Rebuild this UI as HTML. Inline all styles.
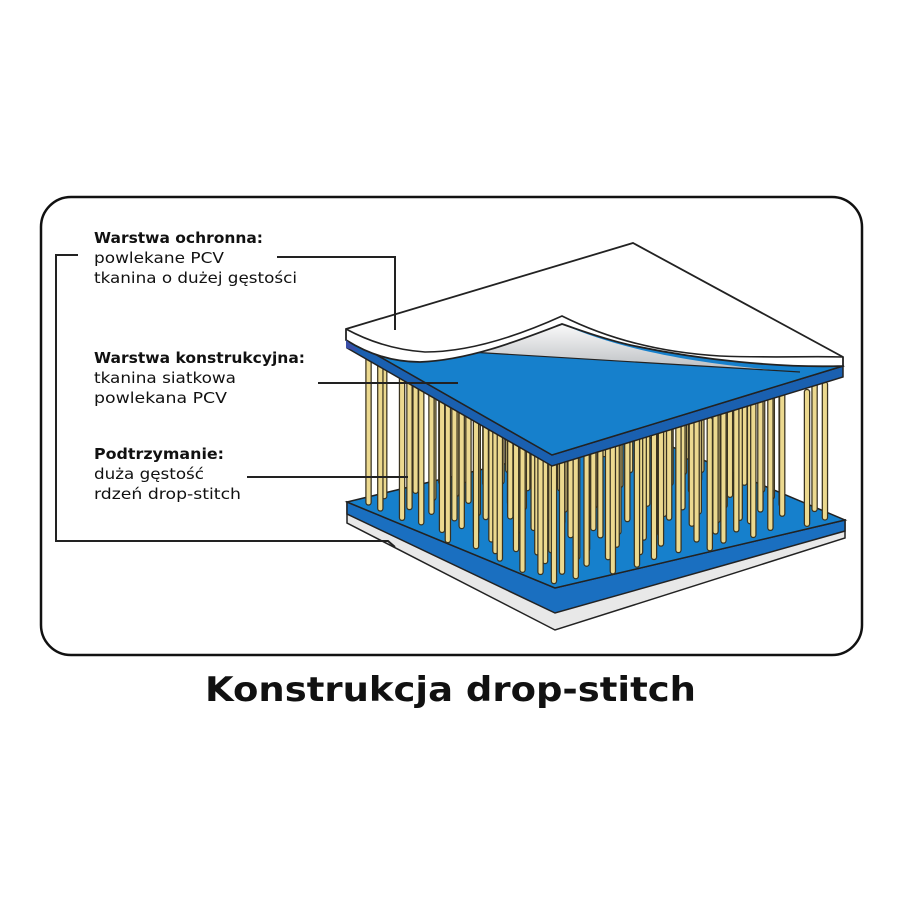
<!DOCTYPE html>
<html><head><meta charset="utf-8"><style>
html,body{margin:0;padding:0;background:#fff;width:900px;height:900px;overflow:hidden}
svg{display:block}
text{font-family:"DejaVu Sans","Liberation Sans",sans-serif;fill:#111}
</style></head><body>
<svg id="s" width="900" height="900" viewBox="0 0 900 900" xmlns="http://www.w3.org/2000/svg">
<rect x="41" y="197" width="821" height="458" rx="30" fill="#fff" stroke="#111" stroke-width="2.5"/>
<!-- bottom plate -->
<polygon points="347,502 555,588 845,520 845,538 555,630 347,523" fill="#e8e8e8" stroke="#222" stroke-width="1.5"/>
<polygon points="347,502 555,588 845,520 845,531 555,613 347,514" fill="#1a6fc0" stroke="#222" stroke-width="1.5"/>
<polygon points="347,502 637,432 845,520 555,588" fill="#1680cc" stroke="#222" stroke-width="1.5"/>
<g id="rods"></g>
<!-- top plate -->
<polygon points="347,338 552,455 843,366 843,377 552,466 347,348" fill="#1a60b0" stroke="#222" stroke-width="1.5"/>
<polygon points="347,338 640,258 843,366 552,455" fill="#1680cc" stroke="#222" stroke-width="1.5"/>
<defs><linearGradient id="g" x1="0" y1="0" x2="0" y2="1"><stop offset="0" stop-color="#fafafa"/><stop offset="1" stop-color="#b9bcc0"/></linearGradient></defs>
<path d="M470,352 C500,345 530,335 562,324 C620,350 700,365 800,372 Z" fill="url(#g)"/>
<line x1="470" y1="352" x2="800" y2="372" stroke="#222" stroke-width="1.2"/>
<!-- white sheet -->
<path d="M346,329 L633,243 L843,357 L843,366 C780,368 700,360 630,345 C600,338 580,330 562,324 C520,340 470,360 420,362 C390,362 365,352 346,340 Z" fill="#fff" stroke="#222" stroke-width="1.8"/>
<path d="M346,329 C370,342 395,350 425,352 C470,352 520,335 562,316 C600,335 650,352 720,356 C770,358 810,356 843,357" fill="none" stroke="#222" stroke-width="1.6"/>
<path d="M346,340 L346,348 L360,352 Z" fill="#3a4fa8"/>
<!-- connectors -->
<g stroke="#222" stroke-width="2" fill="none">
<polyline points="277,257 395,257 395,330"/>
<polyline points="78,255 56,255 56,541 388,541 395,547"/>
<line x1="318" y1="383" x2="458" y2="383"/>
<line x1="247" y1="477" x2="408" y2="477"/>
</g>
<g font-size="15">
<text x="94" y="243" font-weight="bold" textLength="169" lengthAdjust="spacingAndGlyphs">Warstwa ochronna:</text>
<text x="94" y="263" textLength="130" lengthAdjust="spacingAndGlyphs">powlekane PCV</text>
<text x="94" y="283" textLength="203" lengthAdjust="spacingAndGlyphs">tkanina o dużej gęstości</text>
<text x="94" y="363" font-weight="bold" textLength="211" lengthAdjust="spacingAndGlyphs">Warstwa konstrukcyjna:</text>
<text x="94" y="383" textLength="142" lengthAdjust="spacingAndGlyphs">tkanina siatkowa</text>
<text x="94" y="403" textLength="133" lengthAdjust="spacingAndGlyphs">powlekana PCV</text>
<text x="94" y="459" font-weight="bold" textLength="130" lengthAdjust="spacingAndGlyphs">Podtrzymanie:</text>
<text x="94" y="479" textLength="110" lengthAdjust="spacingAndGlyphs">duża gęstość</text>
<text x="94" y="499" textLength="147" lengthAdjust="spacingAndGlyphs">rdzeń drop-stitch</text>
</g>
<text x="205" y="701" font-size="34" font-weight="bold" textLength="491" lengthAdjust="spacingAndGlyphs">Konstrukcja drop-stitch</text>
</svg>
<script>
(function(){
var g=document.getElementById('rods'),ns='http://www.w3.org/2000/svg';
var L=[347,502],B=[637,432],F=[555,588];
var TL=[347,346],TB=[640,266],TF=[552,462];
var pts=[];var seed=7;function rnd(){seed=(seed*9301+49297)%233280;return seed/233280;}
var N=12,M=12;
for(var i=0;i<N;i++)for(var j=0;j<M;j++){
 var u=(i+0.5+(rnd()-0.5)*0.6)/N, v=(j+0.5+(rnd()-0.5)*0.6)/M;
 var x=L[0]+u*(F[0]-L[0])+v*(B[0]-L[0]);
 var y=L[1]+u*(F[1]-L[1])+v*(B[1]-L[1]);
 var ty=TL[1]+u*(TF[1]-TL[1])+v*(TB[1]-TL[1]);
 pts.push([x,y,ty]);}
pts.sort(function(a,b){return a[1]-b[1];});
pts.forEach(function(p){
 var top=p[2]+4;
 [['#3a3320','6.5'],['#ecd98f','4']].forEach(function(s){
 var a=document.createElementNS(ns,'line');
 a.setAttribute('x1',p[0]);a.setAttribute('x2',p[0]);a.setAttribute('y1',top);a.setAttribute('y2',p[1]);
 a.setAttribute('stroke',s[0]);a.setAttribute('stroke-width',s[1]);a.setAttribute('stroke-linecap','round');g.appendChild(a);});
});
})();
</script>
</body></html>
